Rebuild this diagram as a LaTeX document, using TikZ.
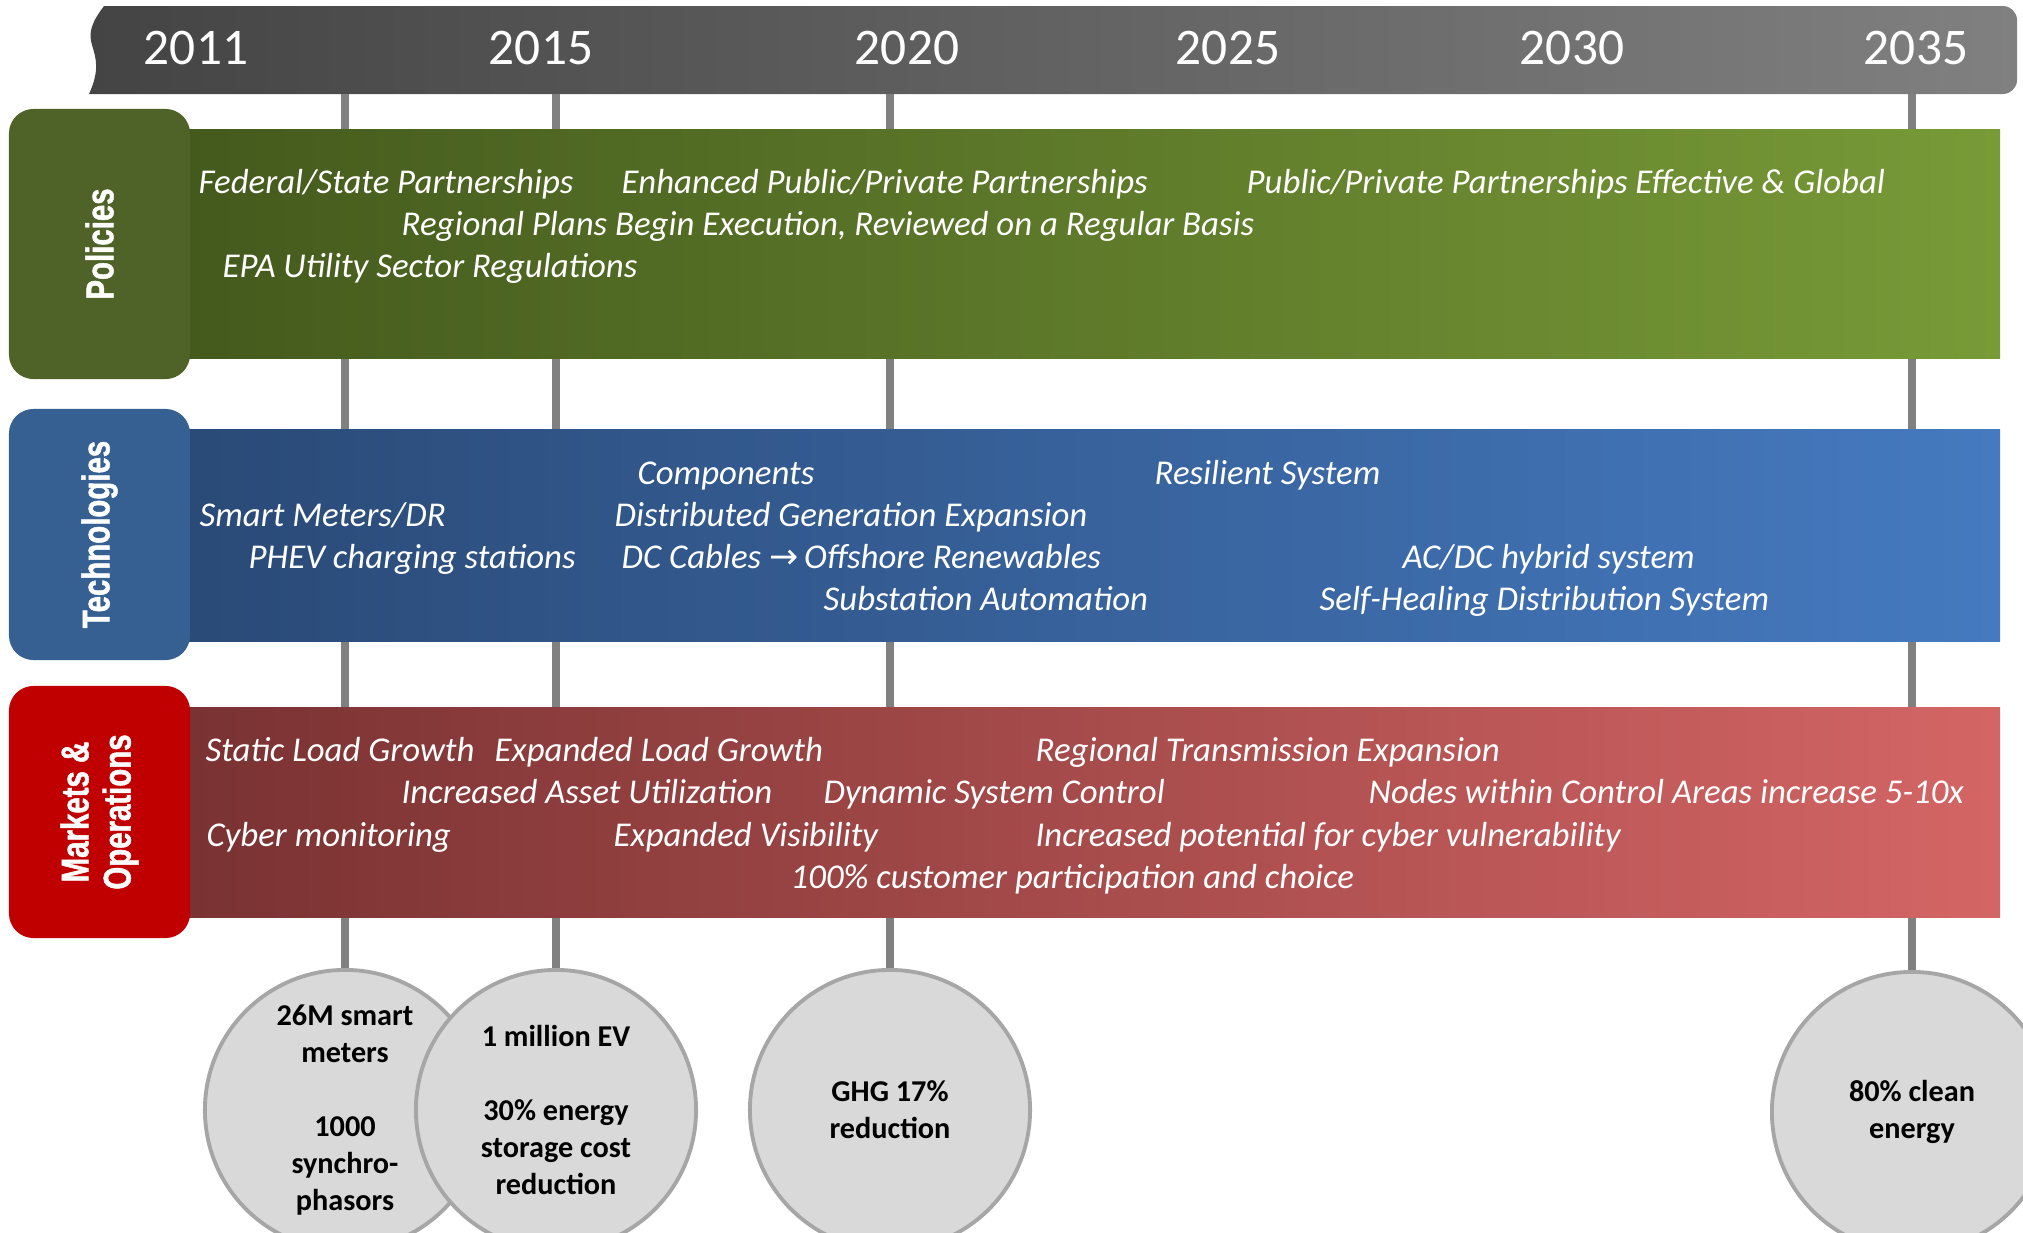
\documentclass[tikz,border=0pt]{standalone}
\usepackage{fontspec}
\setmainfont{Carlito}
\newfontfamily\tabfont[FakeStretch=0.76, BoldFeatures={FakeStretch=0.76, FakeBold=1.2}]{Liberation Sans}
\newfontfamily\arrowfont{DejaVu Sans}
\usepackage{xcolor}

\definecolor{bannerL}{HTML}{444444}
\definecolor{bannerR}{HTML}{808080}
\definecolor{tickGray}{HTML}{808080}
\definecolor{polTab}{HTML}{4F6228}
\definecolor{polL}{HTML}{445A1D}
\definecolor{polR}{HTML}{789A37}
\definecolor{techTab}{HTML}{376092}
\definecolor{techL}{HTML}{2A4A77}
\definecolor{techR}{HTML}{457AC0}
\definecolor{mktTab}{HTML}{C00000}
\definecolor{mktL}{HTML}{7A3232}
\definecolor{mktR}{HTML}{D46565}
\definecolor{goalFill}{HTML}{D9D9D9}
\definecolor{goalLine}{HTML}{A6A6A6}

\begin{document}
\begin{tikzpicture}[x=0.01cm, y=-0.01cm,
    yr/.style={text=white, font=\fontsize{14.6}{17}\selectfont, anchor=base, inner sep=0pt},
    item/.style={text=white, font=\fontsize{9.9}{12}\selectfont\itshape, anchor=base west, inner sep=0pt},
    tab/.style={rounded corners=7pt, rotate=90, minimum height=1.81cm, text=white, align=center,
        inner sep=0pt, font=\tabfont\bfseries\fontsize{11}{12}\selectfont},
    goal/.style={circle, draw=goalLine, line width=1.1pt, fill=goalFill, minimum size=2.80cm,
        inner sep=0pt, align=center, font=\bfseries\fontsize{8.6}{10.5}\selectfont},
    tick/.style={draw=tickGray, line width=2.2pt}]
    \useasboundingbox (0,0) rectangle (2023,1233);

    % Timeline banner
    \shade[left color=bannerL, right color=bannerR]
        (104,6) [rounded corners=4pt] -- (2017,6) -- (2017,94) [sharp corners] -- (89,94)
        .. controls (100,70) and (96,58) .. (92,45)
        .. controls (88,32) and (92,22) .. (104,6) -- cycle;
    \node[yr] (y2011) at (196,64) {2011};
    \node[yr] (y2015) at (541,64) {2015};
    \node[yr] (y2020) at (907,64) {2020};
    \node[yr] (y2025) at (1228,64) {2025};
    \node[yr] (y2030) at (1572,64) {2030};
    \node[yr] (y2035) at (1916,64) {2035};
    \coordinate (t1) at (345,94);
    \coordinate (t2) at (556,94);
    \coordinate (t3) at (890,94);
    \coordinate (t4) at (1912,94);

    % Milestones
    \node[goal] (m1) at (345,1110) {26M smart\\meters\\[10.5pt]1000\\synchro-\\phasors};
    \node[goal] (m2) at (556,1110) {1 million EV\\[10.5pt]30\% energy\\storage cost\\reduction};
    \node[goal] (m3) at (890,1110) {GHG 17\%\\reduction};
    \node[goal] (m4) at (1912,1112) {80\% clean\\energy};

    % Year ticks
    \draw[tick] (t1) -- (m1.north);
    \draw[tick] (t2) -- (m2.north);
    \draw[tick] (t3) -- (m3.north);
    \draw[tick] (t4) -- (m4.north);

    % Bands
    \shade[left color=polL, right color=polR] (185,129) rectangle (2000,358);
    \shade[left color=techL, right color=techR] (185,429) rectangle (2000,641);
    \shade[left color=mktL, right color=mktR] (185,707) rectangle (2000,917);

    \node[tab, fill=polTab, minimum width=2.70cm] (pol) at (99.5,244) {Policies};
    \node[tab, fill=techTab, minimum width=2.51cm] (tech) at (99.5,534.5) {Technologies};
    \node[tab, fill=mktTab, minimum width=2.52cm] (mkt) at (99.5,812) {Markets \&\\Operations};

    % Policies
    \node[item] (p1) at (198,193) {Federal/State Partnerships};
    \node[item] (p2) at (621,193) {Enhanced Public/Private Partnerships};
    \node[item] (p3) at (1246,193) {Public/Private Partnerships Effective \& Global};
    \node[item] (p4) at (401,235) {Regional Plans Begin Execution, Reviewed on a Regular Basis};
    \node[item] (p5) at (222,277) {EPA Utility Sector Regulations};

    % Technologies
    \node[item] (q1) at (637,484) {Components};
    \node[item] (q2) at (1154,484) {Resilient System};
    \node[item] (q3) at (199,526) {Smart Meters/DR};
    \node[item] (q4) at (614,526) {Distributed Generation Expansion};
    \node[item] (q5) at (248,568) {PHEV charging stations};
    \node[item] (q6) at (621,568) {DC Cables {\arrowfont\upshape →}\,Offshore Renewables};
    \node[item] (q7) at (1402,568) {AC/DC hybrid system};
    \node[item] (q8) at (823,610) {Substation Automation};
    \node[item] (q9) at (1319,610) {Self-Healing Distribution System};

    % Markets & Operations
    \node[item] (r1) at (205,761) {Static Load Growth};
    \node[item] (r2) at (494,761) {Expanded Load Growth};
    \node[item] (r3) at (1035,761) {Regional Transmission Expansion};
    \node[item] (r4) at (401,803) {Increased Asset Utilization};
    \node[item] (r5) at (823,803) {Dynamic System Control};
    \node[item] (r6) at (1368,803) {Nodes within Control Areas increase 5-10x};
    \node[item] (r7) at (206,846) {Cyber monitoring};
    \node[item] (r8) at (613,846) {Expanded Visibility};
    \node[item] (r9) at (1035,846) {Increased potential for cyber vulnerability};
    \node[item] (r10) at (790,888) {100\% customer participation and choice};
\end{tikzpicture}
\end{document}
